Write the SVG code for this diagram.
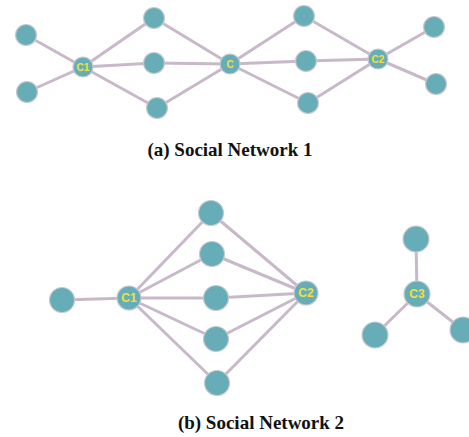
<svg xmlns="http://www.w3.org/2000/svg" width="469" height="437" viewBox="0 0 469 437">
<style>
.e{stroke:#c8b9c9;stroke-width:3;fill:none}
.n circle{fill:#67adb8;stroke:#c9c9cf;stroke-width:1.2}
.l{font-family:"Liberation Sans",Arial,sans-serif;font-weight:bold;fill:#f3e03c;text-anchor:middle;dominant-baseline:central}
.cap{font-family:"Liberation Serif","Times New Roman",serif;font-weight:bold;font-size:19px;fill:#111;text-anchor:middle}
</style>
<rect width="469" height="437" fill="#fff"/>
<g id="connectors">
<line class="e" x1="26" y1="35" x2="83" y2="67"/>
<line class="e" x1="27" y1="92" x2="83" y2="67"/>
<line class="e" x1="83" y1="67" x2="154" y2="18"/>
<line class="e" x1="83" y1="67" x2="154" y2="63"/>
<line class="e" x1="83" y1="67" x2="157" y2="108"/>
<line class="e" x1="154" y1="18" x2="230" y2="64"/>
<line class="e" x1="154" y1="63" x2="230" y2="64"/>
<line class="e" x1="157" y1="108" x2="230" y2="64"/>
<line class="e" x1="230" y1="64" x2="304" y2="16"/>
<line class="e" x1="230" y1="64" x2="306" y2="61"/>
<line class="e" x1="230" y1="64" x2="308" y2="103"/>
<line class="e" x1="304" y1="16" x2="378" y2="59"/>
<line class="e" x1="306" y1="61" x2="378" y2="59"/>
<line class="e" x1="308" y1="103" x2="378" y2="59"/>
<line class="e" x1="378" y1="59" x2="434" y2="27"/>
<line class="e" x1="378" y1="59" x2="436" y2="84"/>
<line class="e" x1="62" y1="300" x2="129" y2="298"/>
<line class="e" x1="129" y1="298" x2="211" y2="213"/>
<line class="e" x1="129" y1="298" x2="212" y2="254"/>
<line class="e" x1="129" y1="298" x2="216" y2="298"/>
<line class="e" x1="129" y1="298" x2="216" y2="339"/>
<line class="e" x1="129" y1="298" x2="217" y2="383"/>
<line class="e" x1="211" y1="213" x2="306" y2="293"/>
<line class="e" x1="212" y1="254" x2="306" y2="293"/>
<line class="e" x1="216" y1="298" x2="306" y2="293"/>
<line class="e" x1="216" y1="339" x2="306" y2="293"/>
<line class="e" x1="217" y1="383" x2="306" y2="293"/>
<line class="e" x1="416" y1="239" x2="417" y2="294"/>
<line class="e" x1="417" y1="294" x2="375" y2="335"/>
<line class="e" x1="417" y1="294" x2="463" y2="330"/>
</g>
<g class="n">
<g id="a-l1"><circle cx="26" cy="35" r="10.5"/></g>
<g id="a-l2"><circle cx="27" cy="92" r="10.5"/></g>
<g id="a-c1"><circle cx="83" cy="67" r="10"/><text class="l" x="83" y="67" font-size="10">C1</text></g>
<g id="a-m1"><circle cx="154" cy="18" r="10.5"/></g>
<g id="a-m2"><circle cx="154" cy="63" r="10.5"/></g>
<g id="a-m3"><circle cx="157" cy="108" r="10.5"/></g>
<g id="a-c"><circle cx="230" cy="64" r="10"/><text class="l" x="230" y="64" font-size="10">C</text></g>
<g id="a-n1"><circle cx="304" cy="16" r="10.5"/></g>
<g id="a-n2"><circle cx="306" cy="61" r="10.5"/></g>
<g id="a-n3"><circle cx="308" cy="103" r="10.5"/></g>
<g id="a-c2"><circle cx="378" cy="59" r="10"/><text class="l" x="378" y="59" font-size="10">C2</text></g>
<g id="a-r1"><circle cx="434" cy="27" r="10.5"/></g>
<g id="a-r2"><circle cx="436" cy="84" r="10.5"/></g>
<g id="b-l"><circle cx="62" cy="300" r="12.5"/></g>
<g id="b-c1"><circle cx="129" cy="298" r="12"/><text class="l" x="129" y="298" font-size="12">C1</text></g>
<g id="b-m1"><circle cx="211" cy="213" r="12.5"/></g>
<g id="b-m2"><circle cx="212" cy="254" r="12.5"/></g>
<g id="b-m3"><circle cx="216" cy="298" r="12.5"/></g>
<g id="b-m4"><circle cx="216" cy="339" r="12.5"/></g>
<g id="b-m5"><circle cx="217" cy="383" r="12.5"/></g>
<g id="b-c2"><circle cx="306" cy="293" r="12"/><text class="l" x="306" y="293" font-size="12">C2</text></g>
<g id="b-t"><circle cx="416" cy="239" r="13"/></g>
<g id="b-c3"><circle cx="417" cy="294" r="13"/><text class="l" x="417" y="294" font-size="12">C3</text></g>
<g id="b-bl"><circle cx="375" cy="335" r="13"/></g>
<g id="b-br"><circle cx="463" cy="330" r="13"/></g>
</g>
<text class="cap" x="230" y="156">(a) Social Network 1</text>
<text class="cap" x="261" y="429">(b) Social Network 2</text>
</svg>
